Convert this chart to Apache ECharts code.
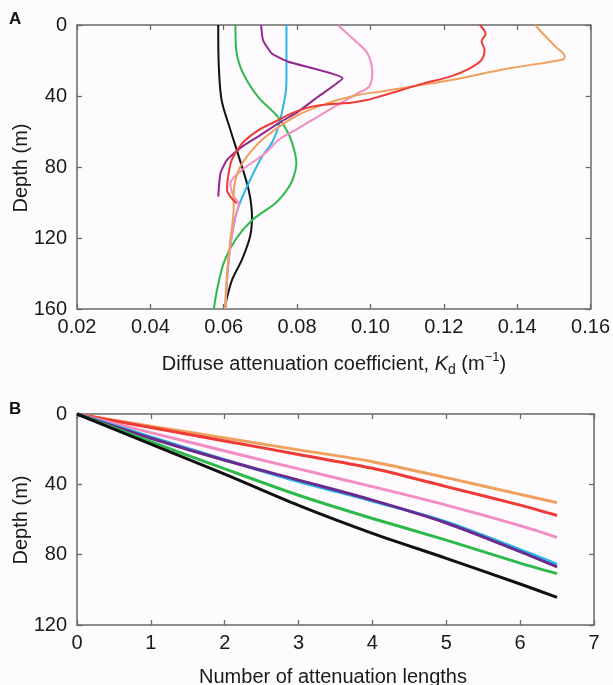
<!DOCTYPE html>
<html>
<head>
<meta charset="utf-8">
<script src="https://cdn.jsdelivr.net/npm/echarts@6/dist/echarts.min.js"></script>
<style>
  html, body { margin: 0; padding: 0; background: #fdfbfd; }
  #chart { width: 613px; height: 685px; }
</style>
</head>
<body>
<div id="chart"></div>
<script>
// ---- Panel A: diffuse attenuation profiles, Kd (1/m) against depth (m) ----
const blackDepth  = [0, 20, 42, 59, 74, 93, 108, 119, 132, 144, 157, 160];
const blackKd     = [0.0585, 0.0586, 0.0594, 0.0618, 0.0641, 0.0668, 0.0677, 0.0672, 0.0650, 0.0622, 0.0605, 0.0603];

const greenDepth  = [0, 14, 23.5, 33, 41.3, 51.6, 61, 70.4, 78, 87, 93, 100.5, 110, 121, 134, 149, 160];
const greenKd     = [0.0632, 0.0634, 0.0645, 0.0668, 0.0697, 0.0747, 0.0776, 0.0792, 0.0798, 0.0788, 0.0772, 0.0740, 0.0677, 0.0632, 0.0600, 0.0582, 0.0573];

const cyanDepth   = [0, 27, 36, 46, 57.3, 66, 74, 89, 102, 115, 135, 160];
const cyanKd      = [0.0771, 0.0771, 0.0770, 0.0762, 0.0749, 0.0732, 0.0705, 0.0668, 0.0641, 0.0625, 0.0612, 0.0605];

const purpleDepth = [0, 8.5, 16, 20.7, 30, 40.4, 48.8, 55.4, 62, 68.5, 76, 83.5, 96.7];
const purpleKd    = [0.0702, 0.0707, 0.0731, 0.0776, 0.0924, 0.0857, 0.0803, 0.0749, 0.0700, 0.0650, 0.0609, 0.0591, 0.0585];

const redDepth    = [0, 5, 9, 14, 19.7, 24.4, 29.1, 32.9, 36.6, 40, 42.3, 43.8, 44.5, 46, 49.8, 54.5, 59.2, 66.7, 76, 85.4, 93, 97.7, 100.5];
const redKd       = [0.1298, 0.1314, 0.1303, 0.1311, 0.1303, 0.1271, 0.1217, 0.1145, 0.1085, 0.1030, 0.0990, 0.0947, 0.0893, 0.0839, 0.0785, 0.0740, 0.0695, 0.0650, 0.0622, 0.0612, 0.0609, 0.0622, 0.0636];

const orangeDepth = [0, 6.6, 12.2, 17.8, 19.4, 24.4, 31, 34.2, 37.6, 39.4, 42.3, 46, 50.7, 57.5, 66.5, 78, 87.3, 96.7, 104, 121, 140, 160];
const orangeKd    = [0.1449, 0.1478, 0.1505, 0.1530, 0.1525, 0.1379, 0.1220, 0.1127, 0.1025, 0.0965, 0.0911, 0.0857, 0.0803, 0.0749, 0.0695, 0.0650, 0.0632, 0.0627, 0.0627, 0.0618, 0.0609, 0.0603];

const pinkDepth   = [0, 8.5, 16, 27.2, 34.7, 38.5, 45, 51.6, 58.2, 64.8, 72.3, 81.7, 89.2, 96.7, 100.5, 108, 125, 144, 160];
const pinkKd      = [0.0911, 0.0956, 0.0992, 0.1005, 0.0996, 0.0965, 0.0911, 0.0857, 0.0803, 0.0749, 0.0713, 0.0650, 0.0618, 0.0627, 0.0641, 0.0632, 0.0618, 0.0609, 0.0605];

// ---- Panel B: depth reached against number of attenuation lengths ----
const attLengths   = [0, 1, 2, 3, 4, 5, 6, 6.5];
const orangeDepthB = [0, 6.9, 13.6, 20.4, 27.1, 36.2, 45.7, 50.4];
const redDepthB    = [0, 7.7, 15.3, 23.0, 30.9, 41.3, 51.8, 57.7];
const pinkDepthB   = [0, 10.6, 21.0, 31.2, 41.3, 51.8, 63.5, 70.2];
const cyanDepthB   = [0, 13.0, 26.0, 38.4, 49.5, 61.4, 77.2, 85.5];
const purpleDepthB = [0, 13.8, 26.3, 37.6, 49.0, 62.0, 78.3, 87.0];
const greenDepthB  = [0, 15.7, 31.2, 46.2, 59.4, 71.7, 84.8, 90.8];
const blackDepthB  = [0, 17.1, 34.2, 52.0, 67.9, 82.1, 96.7, 104.3];

// Axis ranges and tick spacing
const kdMin = 0.02, kdMax = 0.16, kdStep = 0.02;
const depthMaxA = 160, depthStepA = 40;
const lenMin = 0, lenMax = 7, lenStep = 1;
const depthMaxB = 120, depthStepB = 40;

const COLORS = {
  black: '#111111', green: '#2fb84c', cyan: '#2cb6e8', purple: '#93288f',
  red: '#ef3a36', orange: '#efa05c', pink: '#f28dc2'
};
const PURPLE_B = '#6a2b8f';
const FONT = '"Liberation Sans", Arial, Helvetica, sans-serif';
const FS = 20;
const TEXT = '#1a1a1a';
const AXIS_COLOR = '#6a6a6a';

function pairs(xs, ys) { return xs.map((x, i) => [x, ys[i]]); }

function baseAxis(extra) {
  return Object.assign({
    type: 'value',
    axisLine: { show: true, onZero: false, lineStyle: { color: AXIS_COLOR, width: 1.5 } },
    axisTick: { show: true, inside: true, length: 5, lineStyle: { color: AXIS_COLOR, width: 1.3 } },
    axisLabel: { show: true, color: TEXT, fontSize: FS, fontFamily: FONT },
    splitLine: { show: false }
  }, extra);
}
function mirrorAxis(extra) {
  const a = baseAxis(extra);
  a.axisLabel = { show: false };
  return a;
}

const chart = echarts.init(document.getElementById('chart'), null, { renderer: 'canvas' });

const profilesA = [
  ['black', blackKd, blackDepth],
  ['green', greenKd, greenDepth],
  ['cyan', cyanKd, cyanDepth],
  ['purple', purpleKd, purpleDepth],
  ['pink', pinkKd, pinkDepth],
  ['orange', orangeKd, orangeDepth],
  ['red', redKd, redDepth]
];
const curvesB = [
  ['orange', orangeDepthB],
  ['red', redDepthB],
  ['pink', pinkDepthB],
  ['cyan', cyanDepthB],
  ['purple', purpleDepthB],
  ['green', greenDepthB],
  ['black', blackDepthB]
];

const series = [];
profilesA.forEach(([name, kd, depth]) => {
  series.push({
    type: 'line', name: name + '-A', xAxisIndex: 0, yAxisIndex: 0,
    data: pairs(kd, depth), showSymbol: false,
    smooth: name === 'purple' ? 0.15 : 0.3,
    lineStyle: { color: COLORS[name], width: 2 },
    animation: false
  });
});
curvesB.forEach(([name, depth]) => {
  series.push({
    type: 'line', name: name + '-B', xAxisIndex: 2, yAxisIndex: 2,
    data: pairs(attLengths, depth), showSymbol: false, smooth: 0.3,
    lineStyle: { color: name === 'purple' ? PURPLE_B : COLORS[name], width: 3 },
    animation: false
  });
});

const labelStyle = (margin, extra) => Object.assign({ color: TEXT, fontSize: FS, fontFamily: FONT, margin: margin }, extra || {});

const option = {
  backgroundColor: '#fdfbfd',
  animation: false,
  grid: [
    { left: 77, top: 25, width: 518, height: 284 },
    { left: 77, top: 414, width: 517, height: 211 }
  ],
  xAxis: [
    baseAxis({ gridIndex: 0, position: 'bottom', min: kdMin, max: kdMax, interval: kdStep,
      axisLabel: labelStyle(8, { formatter: v => v.toFixed(2) }) }),
    mirrorAxis({ gridIndex: 0, position: 'top', min: kdMin, max: kdMax, interval: kdStep }),
    baseAxis({ gridIndex: 1, position: 'bottom', min: lenMin, max: lenMax, interval: lenStep,
      axisLabel: labelStyle(8) }),
    mirrorAxis({ gridIndex: 1, position: 'top', min: lenMin, max: lenMax, interval: lenStep })
  ],
  yAxis: [
    baseAxis({ gridIndex: 0, position: 'left', inverse: true, min: 0, max: depthMaxA, interval: depthStepA,
      axisLabel: labelStyle(10, { padding: [4, 0, 0, 0] }) }),
    mirrorAxis({ gridIndex: 0, position: 'right', inverse: true, min: 0, max: depthMaxA, interval: depthStepA }),
    baseAxis({ gridIndex: 1, position: 'left', inverse: true, min: 0, max: depthMaxB, interval: depthStepB,
      axisLabel: labelStyle(10, { padding: [4, 0, 0, 0] }) }),
    mirrorAxis({ gridIndex: 1, position: 'right', inverse: true, min: 0, max: depthMaxB, interval: depthStepB })
  ],
  graphic: [
    { type: 'text', left: 9, top: 11, style: { text: 'A', fontSize: 17, fontWeight: 'bold', fontFamily: FONT, fill: '#111' } },
    { type: 'text', left: 9, top: 401, style: { text: 'B', fontSize: 17, fontWeight: 'bold', fontFamily: FONT, fill: '#111' } },
    { type: 'text', x: 21, y: 168, rotation: Math.PI / 2,
      style: { text: 'Depth (m)', fontSize: FS, fontFamily: FONT, fill: TEXT, align: 'center', verticalAlign: 'middle' } },
    { type: 'text', x: 21, y: 520, rotation: Math.PI / 2,
      style: { text: 'Depth (m)', fontSize: FS, fontFamily: FONT, fill: TEXT, align: 'center', verticalAlign: 'middle' } },
    { type: 'text', x: 334, y: 364,
      style: {
        text: '{a|Diffuse attenuation coefficient, }{k|K}{s|d}{a| (m}{p|−1}{a|)}',
        align: 'center', verticalAlign: 'middle', fill: TEXT,
        rich: {
          a: { fontSize: FS, fontFamily: FONT, fill: TEXT, lineHeight: 26 },
          k: { fontSize: FS, fontFamily: FONT, fontStyle: 'italic', fill: TEXT, lineHeight: 26 },
          s: { fontSize: 14, fontFamily: FONT, fill: TEXT, verticalAlign: 'bottom', lineHeight: 26, padding: [10, 0, 0, 0] },
          p: { fontSize: 13, fontFamily: FONT, fill: TEXT, verticalAlign: 'top', lineHeight: 26, padding: [0, 0, 10, 0] }
        }
      } },
    { type: 'text', x: 333, y: 677,
      style: { text: 'Number of attenuation lengths', fontSize: FS, fontFamily: FONT, fill: TEXT, align: 'center', verticalAlign: 'middle' } }
  ],
  series: series
};
chart.setOption(option);
</script>
</body>
</html>
